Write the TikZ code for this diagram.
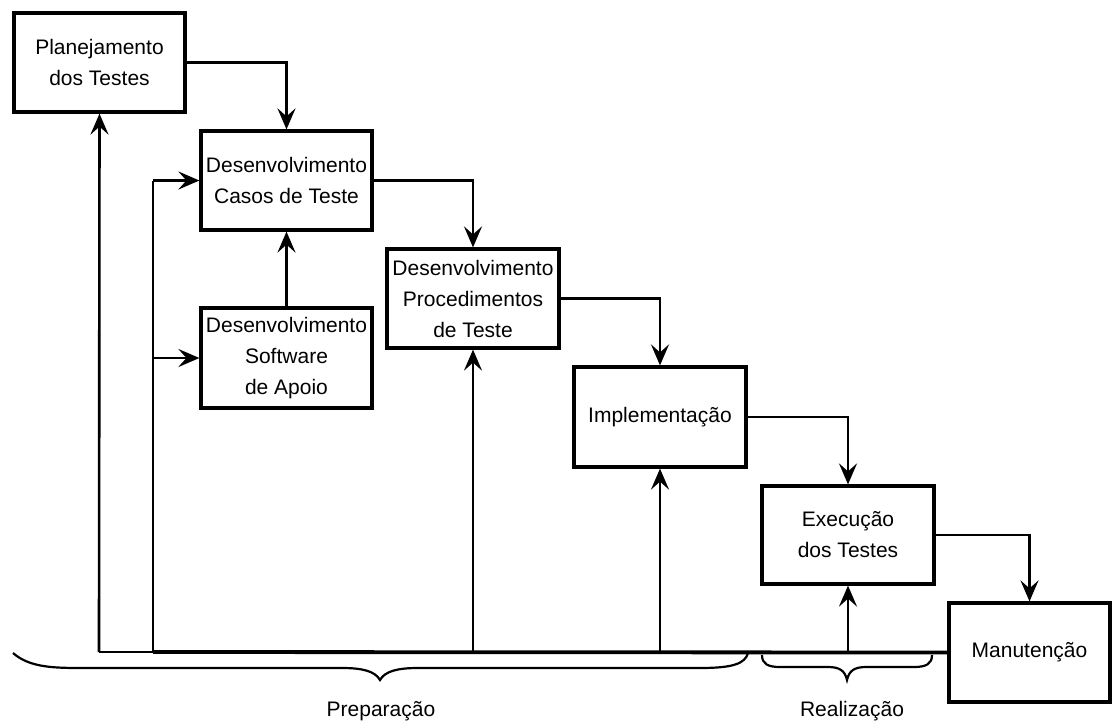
\documentclass[tikz,border=0pt]{standalone}
\usepackage{fontspec}
\setmainfont{Liberation Sans}
\usetikzlibrary{arrows.meta}
\begin{document}
\begin{tikzpicture}[x=1pt,y=-1pt,
  box/.style={draw,line width=3.2pt,minimum width=171pt,minimum height=99pt,
    inner sep=0pt,align=center,font=\fontsize{21}{31}\selectfont},
  link/.style={line width=2.6pt,-{Stealth[length=21pt,width=18pt,inset=8pt]}},
  base/.style={line width=3.8pt},
  brace/.style={line width=2.2pt},
  phase/.style={font=\fontsize{21}{25}\selectfont}]
\useasboundingbox (0,0) rectangle (1112,724);

% process boxes
\node[box] (plan)  at (99.5,62.5)  {Planejamento\\dos Testes};
\node[box] (casos) at (286.5,180.5) {Desenvolvimento\\Casos de Teste};
\node[box,minimum height=100pt] (soft) at (286.5,358) {Desenvolvimento\\Software\\de Apoio};
\node[box,minimum width=172pt] (proc) at (473,298.5) {Desenvolvimento\\Procedimentos\\de Teste};
\node[box,minimum width=172pt,minimum height=100pt] (impl) at (660,417) {Implementação};
\node[box,minimum width=172pt,minimum height=98pt] (exec) at (848,535) {Execução\\dos Testes};
\node[box,minimum width=161pt] (manut) at (1029.5,652.5) {Manutenção};

% forward flow
\draw[link] (plan.east)  -| (casos.north);
\draw[link] (casos.east) -| (proc.north);
\draw[link] (proc.east)  -| (impl.north);
\draw[link] (impl.east)  -| (exec.north);
\draw[link] (exec.east)  -| (manut.north);
\draw[link] (soft.north) -- (casos.south);

% feedback bus
\coordinate (b0) at (99,652);
\coordinate (b1) at (153,652);
\coordinate (spine) at (153,180.5);
\draw[base] (manut.west) -- (b1);
\draw[line width=2.6pt] (b1) -- (b0);
\draw[link] (b0) -- (plan.south);
\draw[line width=2.6pt] (b1) -- (spine);
\draw[link] (spine) -- (casos.west);
\draw[link] (soft.west -| b1) -- (soft.west);
\draw[link] (proc.south |- b1) -- (proc.south);
\draw[link] (impl.south |- b1) -- (impl.south);
\draw[link] (exec.south |- b1) -- (exec.south);

% phase braces
\coordinate (p0) at (13,653);
\coordinate (ptip) at (380,680);
\coordinate (p1) at (748,653);
\draw[brace] (p0) .. controls (30,668) and (55,668) .. (85,668) -- (342,668)
  .. controls (362,668) and (375,671) .. (ptip)
  .. controls (385,671) and (398,668) .. (418,668) -- (700,668)
  .. controls (732,668) and (745,664) .. (p1);
\coordinate (r0) at (762,655);
\coordinate (rtip) at (847,680);
\coordinate (r1) at (932,655);
\draw[brace] (r0) .. controls (762,664) and (768,667) .. (780,667) -- (828,667)
  .. controls (840,667) and (845,671) .. (rtip)
  .. controls (849,671) and (854,667) .. (866,667) -- (914,667)
  .. controls (926,667) and (932,664) .. (r1);
\node[phase] (prep) at (381,711) {Preparação};
\node[phase] (real) at (852,711) {Realização};
\end{tikzpicture}
\end{document}
